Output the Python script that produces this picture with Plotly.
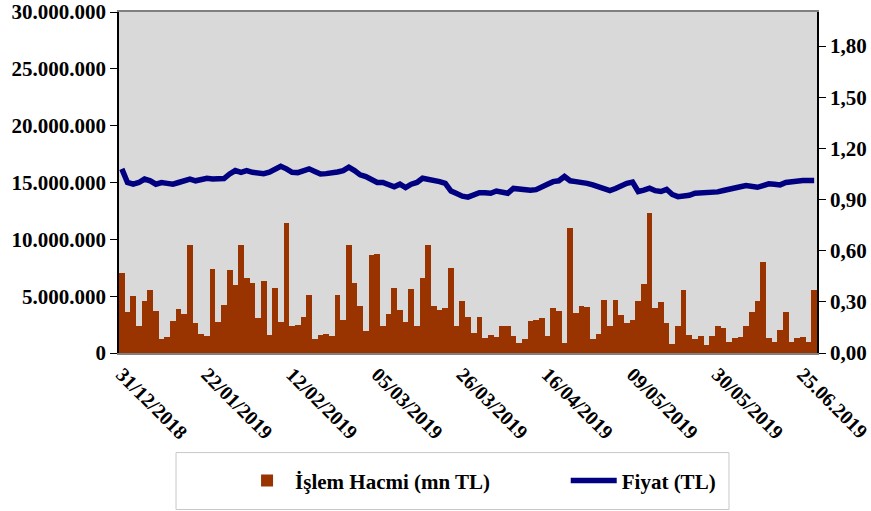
import plotly.graph_objects as go

# işlem hacmi (TL) ve fiyat (TL), 31/12/2018 - 25/06/2019
hacim_mn = [
    7.0, 3.6, 5.0, 2.4, 4.6, 5.5, 3.7, 1.2, 1.4, 2.8,
    3.9, 3.4, 9.5, 2.6, 1.7, 1.5, 7.4, 2.7, 4.25, 7.3,
    5.95, 9.5, 6.6, 6.2, 3.1, 6.3, 1.6, 5.7, 2.7, 11.4,
    2.35, 2.5, 3.2, 5.1, 1.2, 1.6, 1.7, 1.5, 5.1, 2.9,
    9.5, 6.2, 4.1, 1.9, 8.65, 8.7, 2.35, 3.4, 5.7, 3.8,
    2.7, 5.6, 2.4, 6.6, 9.5, 4.15, 3.8, 3.95, 7.5, 2.4,
    4.55, 3.2, 1.8, 3.2, 1.3, 1.6, 1.45, 2.35, 2.4, 1.5,
    0.9, 1.2, 2.8, 2.9, 3.1, 1.5, 3.95, 3.7, 0.9, 11.0,
    3.5, 4.1, 4.05, 1.2, 1.7, 4.7, 2.35, 4.7, 3.3, 2.6,
    2.9, 4.55, 6.1, 12.3, 3.95, 4.45, 2.6, 0.8, 2.35, 5.55,
    1.6, 1.2, 1.5, 0.73, 1.5, 2.4, 2.2, 1.0, 1.3, 1.45,
    2.35, 3.65, 4.55, 8.05, 1.3, 0.95, 2.05, 3.65, 1.0, 1.3,
    1.45, 0.95, 5.5,
]
fiyat = [
    1.08, 1.00, 0.99, 1.00, 1.02, 1.01, 0.99, 1.00, 0.995, 0.99,
    1.00, 1.01, 1.02, 1.01, 1.015, 1.025, 1.02, 1.02, 1.023, 1.05,
    1.07, 1.06, 1.07, 1.06, 1.055, 1.052, 1.06, 1.074, 1.095, 1.08,
    1.06, 1.058, 1.065, 1.08, 1.065, 1.05, 1.052, 1.055, 1.062, 1.07,
    1.09, 1.07, 1.045, 1.035, 1.02, 1.00, 1.00, 0.99, 0.975, 0.99,
    0.97, 0.99, 1.00, 1.025, 1.02, 1.012, 1.005, 0.995, 0.95, 0.935,
    0.92, 0.914, 0.93, 0.94, 0.94, 0.937, 0.95, 0.945, 0.937, 0.965,
    0.96, 0.953, 0.955, 0.958, 0.97, 0.99, 1.005, 1.01, 1.035, 1.01,
    1.005, 1.002, 0.995, 0.986, 0.975, 0.965, 0.952, 0.965, 0.982, 0.995,
    1.002, 0.947, 0.955, 0.967, 0.952, 0.947, 0.96, 0.93, 0.917, 0.917,
    0.925, 0.937, 0.937, 0.937, 0.937, 0.945, 0.953, 0.958, 0.965, 0.975,
    0.982, 0.978, 0.972, 0.982, 0.992, 0.99, 0.986, 1.0, 1.005, 1.008,
    1.011, 1.011, 1.011,
]
tarih_etiket = ["31/12/2018", "22/01/2019", "12/02/2019", "05/03/2019", "26/03/2019",
                "16/04/2019", "09/05/2019", "30/05/2019", "25.06.2019"]
sol_tick = [0, 5e6, 10e6, 15e6, 20e6, 25e6, 30e6]
sol_etiket = ["0", "5.000.000", "10.000.000", "15.000.000", "20.000.000",
              "25.000.000", "30.000.000"]
sag_tick = [0, 0.3, 0.6, 0.9, 1.2, 1.5, 1.8]
sag_etiket = ["0,00", "0,30", "0,60", "0,90", "1,20", "1,50", "1,80"]

hacim = [v * 1_000_000 for v in hacim_mn]
x = list(range(len(hacim)))

yazi = dict(family="Liberation Serif", size=21, color="black", weight="bold")
tarih_yazi = dict(yazi, size=20)

fig = go.Figure()
fig.add_trace(go.Bar(x=x, y=hacim, name="İşlem Hacmi (mn TL)", legend="legend",
                     marker=dict(color="#993300", line=dict(width=0))))
fig.add_trace(go.Scatter(x=x, y=fiyat, name="Fiyat (TL)", yaxis="y2", mode="lines",
                         legend="legend2", line=dict(color="#000080", width=5.5)))

# legend çerçevesi
fig.add_shape(type="rect", xref="paper", yref="paper", x0=0.0817, x1=0.8739,
              y0=-0.459, y1=-0.292, line=dict(color="#c8c8c8", width=1), fillcolor="white")

leg = dict(orientation="h", y=-0.375, xanchor="left", yanchor="middle",
           font=yazi, itemwidth=46, bgcolor="rgba(0,0,0,0)")

fig.update_layout(
    width=871, height=511,
    margin=dict(l=119, r=54, t=12, b=158, autoexpand=False),
    paper_bgcolor="white", plot_bgcolor="#d9d9d9",
    bargap=0,
    font=yazi,
    showlegend=True,
    legend=dict(leg, x=0.172),
    legend2=dict(leg, x=0.640),
    xaxis=dict(range=[-0.5, len(x) - 0.5], tickvals=[0, 15, 30, 45, 60, 75, 90, 105, 120],
               ticktext=tarih_etiket, tickangle=45, showgrid=False, zeroline=False,
               showline=True, linecolor="#808080", linewidth=2, mirror=True, ticks="",
               tickfont=tarih_yazi, ticklabeloverflow="allow"),
    yaxis=dict(range=[0, 30_000_000], tickvals=sol_tick, ticktext=sol_etiket,
               showgrid=False, zeroline=False, showline=True, linecolor="black", linewidth=1.5,
               ticks="outside", ticklen=7, tickcolor="black", tickfont=yazi,
               ticklabeloverflow="allow"),
    yaxis2=dict(range=[0, 2.0], overlaying="y", side="right",
                tickvals=sag_tick, ticktext=sag_etiket,
                showgrid=False, zeroline=False, showline=True, linecolor="black", linewidth=1.5,
                ticks="outside", ticklen=7, tickcolor="black", tickfont=yazi,
                ticklabeloverflow="allow"),
    # iç taraftaki tick parçaları (eksen çizgisini kesen tickler)
    yaxis3=dict(range=[0, 30_000_000], overlaying="y", side="left", tickvals=sol_tick,
                showticklabels=False, showgrid=False, zeroline=False, showline=False,
                ticks="inside", ticklen=7, tickcolor="black"),
    yaxis4=dict(range=[0, 2.0], overlaying="y", side="right", tickvals=sag_tick,
                showticklabels=False, showgrid=False, zeroline=False, showline=False,
                ticks="inside", ticklen=7, tickcolor="black"),
)

# sayfa gövdesinin varsayılan 8px kenar boşluğunu kaldır
fig.write_html("out.html", config={"displayModeBar": False},
               post_script="document.body.style.margin='0';")
